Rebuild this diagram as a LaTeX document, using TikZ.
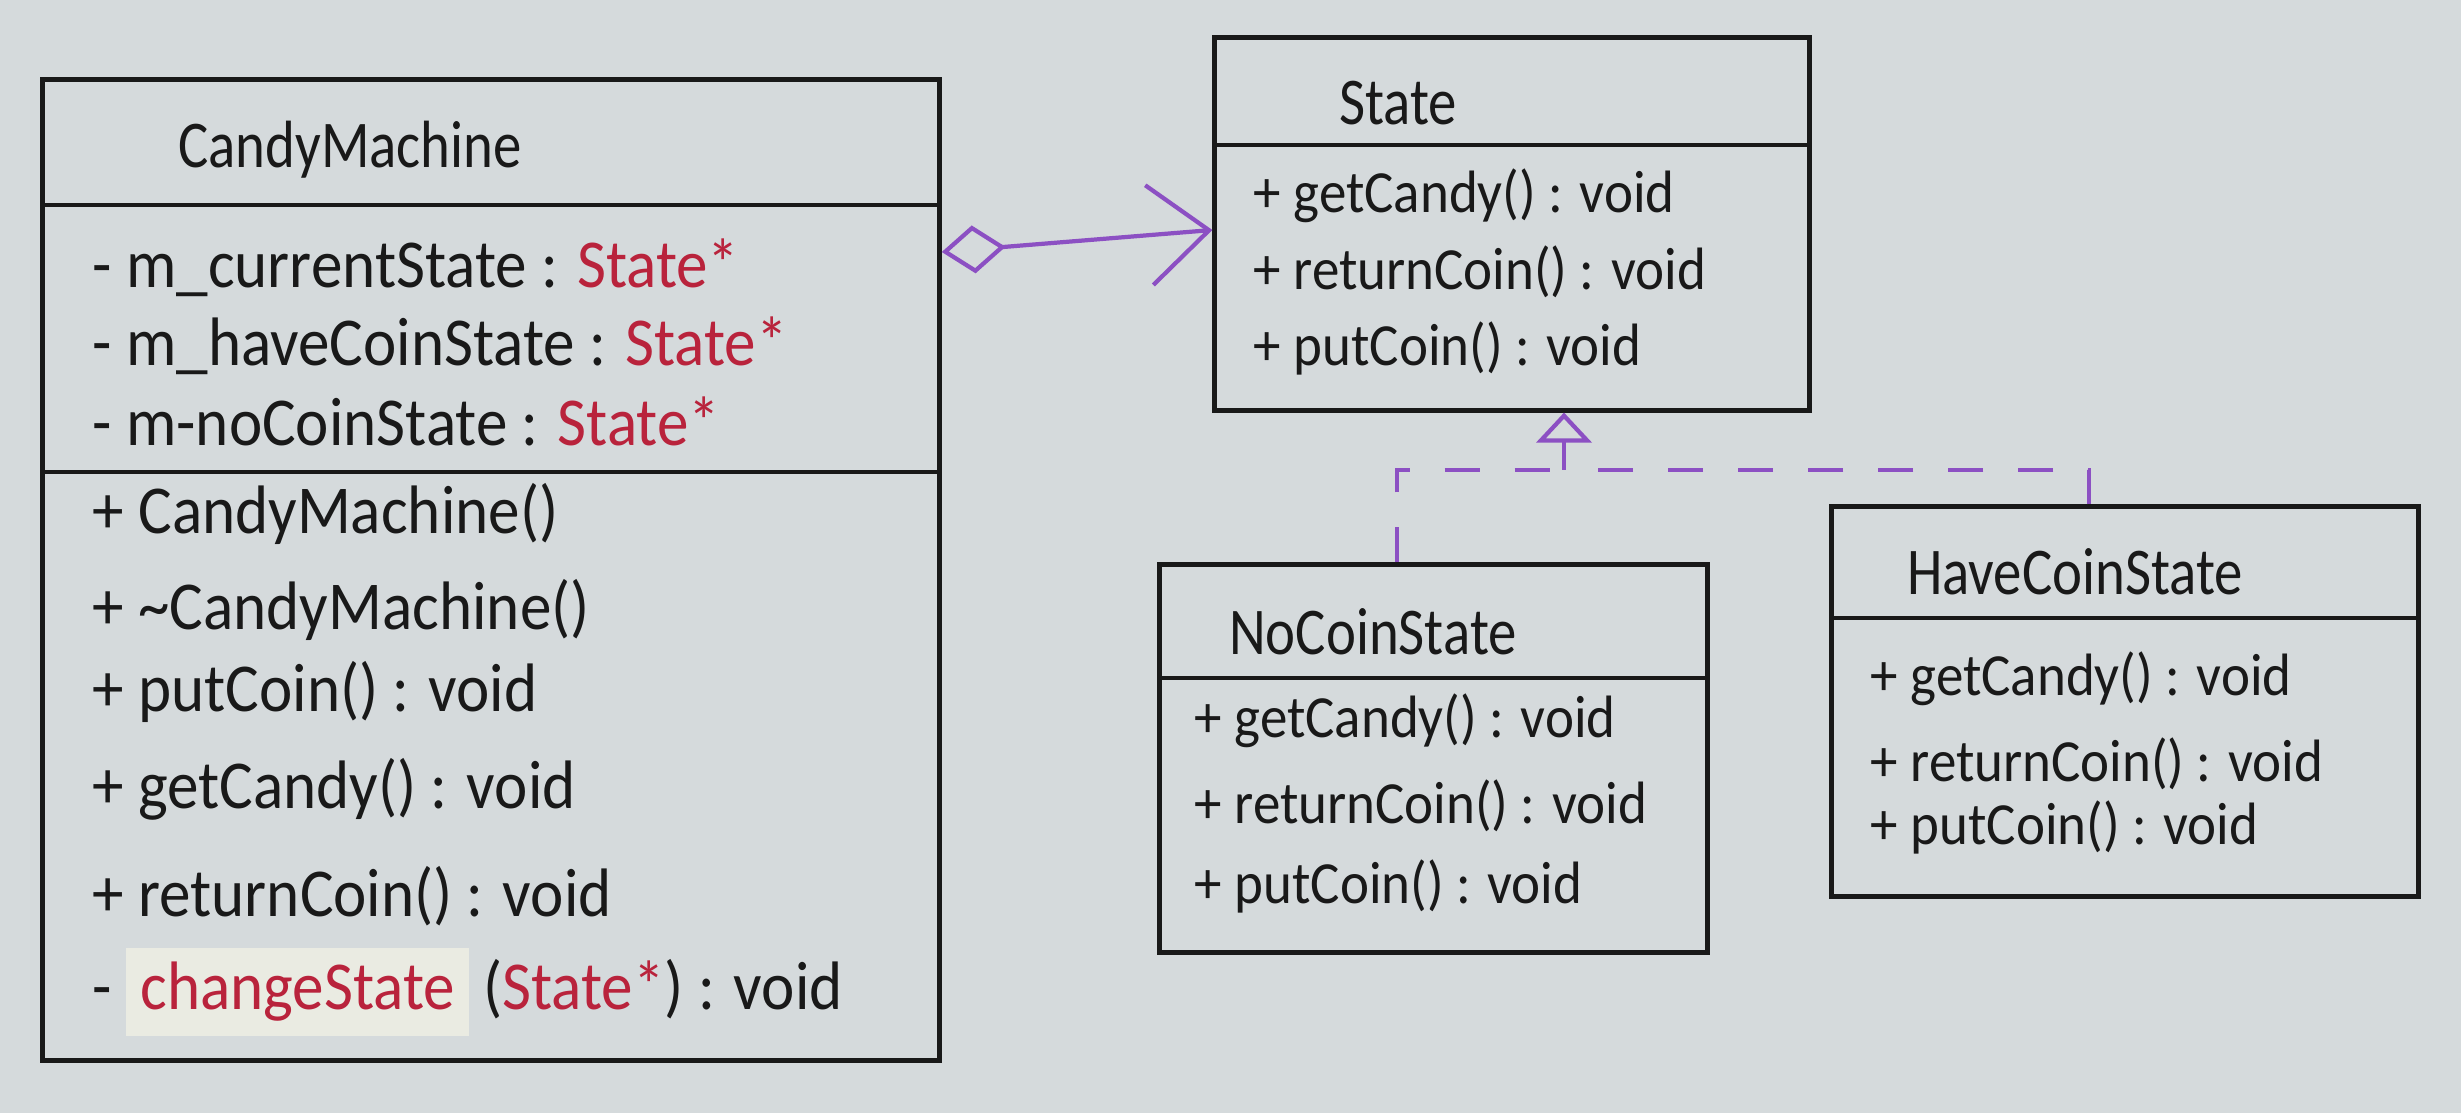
\documentclass[tikz,border=0pt]{standalone}
\usepackage{fontspec}
\setmainfont{Carlito}
\newfontfamily\narrowfont[FakeStretch=0.92]{Carlito}
\newfontfamily\titlefont[FakeStretch=0.85]{Carlito}
\usetikzlibrary{arrows.meta}
\definecolor{paper}{RGB}{213,218,220}
\definecolor{ink}{RGB}{25,25,25}
\definecolor{purp}{RGB}{140,80,195}
\definecolor{candyred}{RGB}{185,35,60}
\definecolor{hilite}{RGB}{234,235,226}

\begin{document}
\begin{tikzpicture}[x=0.01cm,y=-0.01cm,draw=ink,text=ink,classbox/.style={draw=ink, line width=1.4pt, inner sep=0pt},sepline/.style={draw=ink, line width=1.4pt},member/.style={font=\narrowfont\fontsize{17}{20}\selectfont, inner sep=0pt, anchor=west},bigmember/.style={member, font=\narrowfont\fontsize{19.5}{22}\selectfont},classname/.style={font=\titlefont\fontsize{19}{22}\selectfont, inner sep=0pt},aggr/.style={draw=purp, line width=1.2pt, {Diamond[open, length=0.64cm, width=0.48cm]}-{Straight Barb[length=0.6cm, width=1cm]}},realize/.style={draw=purp, line width=1.2pt, dash pattern=on 0.35cm off 0.35cm}]
\fill[paper] (0,0) rectangle (2461,1113);
\useasboundingbox (0,0) rectangle (2461,1113);
\node[classbox, minimum width=8.96cm, minimum height=9.8cm] (cm) at (491,570) {};
\node[classbox, minimum width=5.94cm, minimum height=3.72cm] (st) at (1512,224) {};
\node[classbox, minimum width=5.47cm, minimum height=3.87cm] (nc) at (1433.5,758.5) {};
\node[classbox, minimum width=5.86cm, minimum height=3.89cm] (hc) at (2125,701.5) {};
\draw[sepline] (cm.west |- 0,205) -- (cm.east |- 0,205);
\draw[sepline] (cm.west |- 0,472) -- (cm.east |- 0,472);
\draw[sepline] (st.west |- 0,145) -- (st.east |- 0,145);
\draw[sepline] (nc.west |- 0,678) -- (nc.east |- 0,678);
\draw[sepline] (hc.west |- 0,618) -- (hc.east |- 0,618);
\node[classname] (cmtitle) at (350,150) {CandyMachine};
\node[bigmember] (cma1) at (92,268) {- m\_currentState : \textcolor{candyred}{State*}};
\node[bigmember] (cma2) at (92,346) {- m\_haveCoinState : \textcolor{candyred}{State*}};
\node[bigmember] (cma3) at (92,421) {- m-noCoinState : \textcolor{candyred}{State*}};
\node[bigmember] (cmm1) at (92,514) {+ CandyMachine()};
\node[bigmember] (cmm2) at (92,610) {+ \textasciitilde CandyMachine()};
\node[bigmember] (cmm3) at (92,692) {+ putCoin() : void};
\node[bigmember] (cmm4) at (92,789) {+ getCandy() : void};
\node[bigmember] (cmm5) at (92,896) {+ returnCoin() : void};
\node[bigmember] (cmm6) at (92,992) {- {\fboxsep=4pt\colorbox{hilite}{\textcolor{candyred}{changeState}}} (\textcolor{candyred}{State*}) : void};
\node[classname] (sttitle) at (1398,103) {State};
\node[member] (stm1) at (1253,196) {+ getCandy() : void};
\node[member] (stm2) at (1253,272) {+ returnCoin() : void};
\node[member] (stm3) at (1253,348) {+ putCoin() : void};
\node[classname] (nctitle) at (1373,632) {NoCoinState};
\node[member] (ncm1) at (1194,721) {+ getCandy() : void};
\node[member] (ncm2) at (1194,806) {+ returnCoin() : void};
\node[member] (ncm3) at (1194,886) {+ putCoin() : void};
\node[classname] (hctitle) at (2075,572) {HaveCoinState};
\node[member] (hcm1) at (1870,679) {+ getCandy() : void};
\node[member] (hcm2) at (1870,764) {+ returnCoin() : void};
\node[member] (hcm3) at (1870,827) {+ putCoin() : void};
\coordinate (junc) at (1564,470);
\draw[aggr] (cm.east |- 0,252) -- (st.west |- 0,230);
\draw[realize] ([xshift=-0.365cm]nc.north) |- (junc);
\draw[realize] ([xshift=-0.36cm]hc.north) |- (junc);
\draw[realize, -{Triangle[open, length=0.3cm, width=0.55cm]}] (junc) -- (junc |- st.south);
\end{tikzpicture}
\end{document}
